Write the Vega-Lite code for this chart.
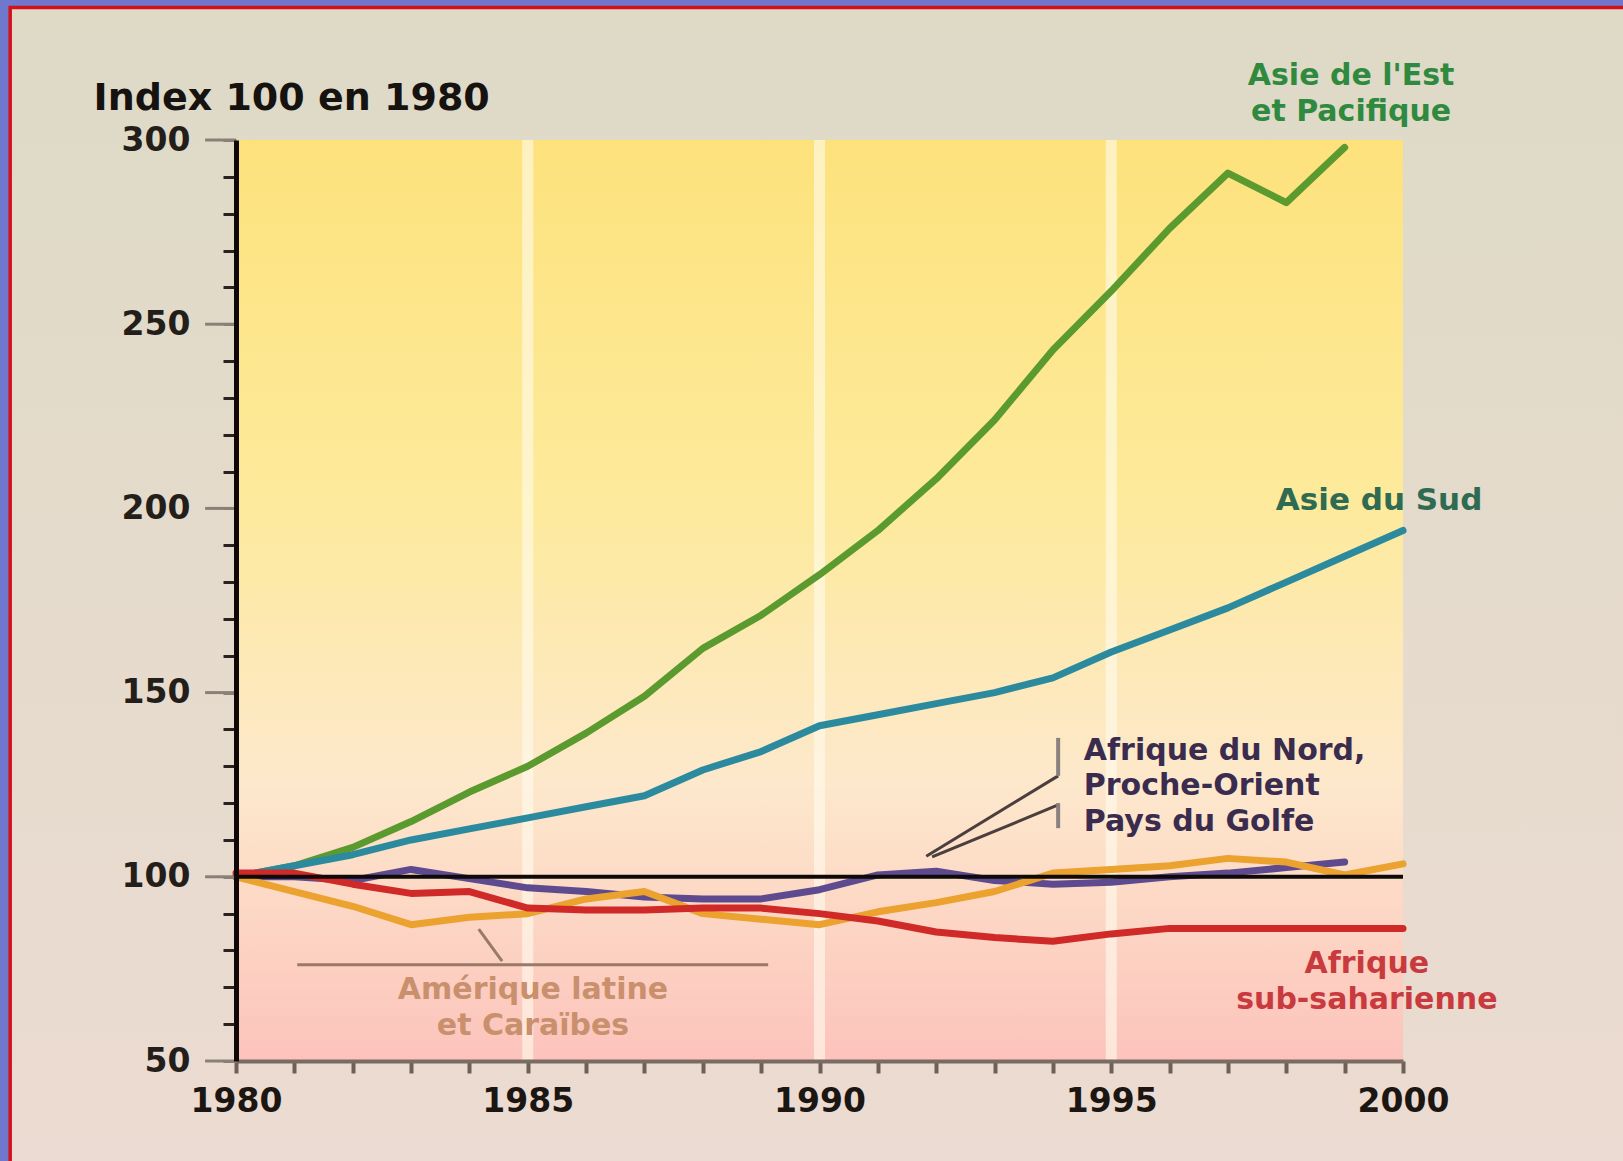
{
  "$schema": "https://vega.github.io/schema/vega-lite/v6.json",
  "width": 1167,
  "height": 921,
  "autosize": {"type": "none"},
  "padding": {"left": 236, "top": 140, "right": 220, "bottom": 100},
  "background": "#6f78cc",
  "config": {"view": {"stroke": null}, "font": "DejaVu Sans"},
  "datasets": {
    "one": [{}],
    "majors": [{"tick": 50}, {"tick": 100}, {"tick": 150}, {"tick": 200}, {"tick": 250}, {"tick": 300}],
    "series": [
      {"year": 1980, "series": "Asie de l'Est et Pacifique", "index": 100},
      {"year": 1981, "series": "Asie de l'Est et Pacifique", "index": 103},
      {"year": 1982, "series": "Asie de l'Est et Pacifique", "index": 108},
      {"year": 1983, "series": "Asie de l'Est et Pacifique", "index": 115},
      {"year": 1984, "series": "Asie de l'Est et Pacifique", "index": 123},
      {"year": 1985, "series": "Asie de l'Est et Pacifique", "index": 130},
      {"year": 1986, "series": "Asie de l'Est et Pacifique", "index": 139},
      {"year": 1987, "series": "Asie de l'Est et Pacifique", "index": 149},
      {"year": 1988, "series": "Asie de l'Est et Pacifique", "index": 162},
      {"year": 1989, "series": "Asie de l'Est et Pacifique", "index": 171},
      {"year": 1990, "series": "Asie de l'Est et Pacifique", "index": 182},
      {"year": 1991, "series": "Asie de l'Est et Pacifique", "index": 194},
      {"year": 1992, "series": "Asie de l'Est et Pacifique", "index": 208},
      {"year": 1993, "series": "Asie de l'Est et Pacifique", "index": 224},
      {"year": 1994, "series": "Asie de l'Est et Pacifique", "index": 243},
      {"year": 1995, "series": "Asie de l'Est et Pacifique", "index": 259},
      {"year": 1996, "series": "Asie de l'Est et Pacifique", "index": 276},
      {"year": 1997, "series": "Asie de l'Est et Pacifique", "index": 291},
      {"year": 1998, "series": "Asie de l'Est et Pacifique", "index": 283},
      {"year": 1999, "series": "Asie de l'Est et Pacifique", "index": 298},
      {"year": 1980, "series": "Asie du Sud", "index": 100},
      {"year": 1981, "series": "Asie du Sud", "index": 103},
      {"year": 1982, "series": "Asie du Sud", "index": 106},
      {"year": 1983, "series": "Asie du Sud", "index": 110},
      {"year": 1984, "series": "Asie du Sud", "index": 113},
      {"year": 1985, "series": "Asie du Sud", "index": 116},
      {"year": 1986, "series": "Asie du Sud", "index": 119},
      {"year": 1987, "series": "Asie du Sud", "index": 122},
      {"year": 1988, "series": "Asie du Sud", "index": 129},
      {"year": 1989, "series": "Asie du Sud", "index": 134},
      {"year": 1990, "series": "Asie du Sud", "index": 141},
      {"year": 1991, "series": "Asie du Sud", "index": 144},
      {"year": 1992, "series": "Asie du Sud", "index": 147},
      {"year": 1993, "series": "Asie du Sud", "index": 150},
      {"year": 1994, "series": "Asie du Sud", "index": 154},
      {"year": 1995, "series": "Asie du Sud", "index": 161},
      {"year": 1996, "series": "Asie du Sud", "index": 167},
      {"year": 1997, "series": "Asie du Sud", "index": 173},
      {"year": 1998, "series": "Asie du Sud", "index": 180},
      {"year": 1999, "series": "Asie du Sud", "index": 187},
      {"year": 2000, "series": "Asie du Sud", "index": 194},
      {"year": 1980, "series": "Afrique du Nord, Proche-Orient, Pays du Golfe", "index": 100},
      {"year": 1981, "series": "Afrique du Nord, Proche-Orient, Pays du Golfe", "index": 100},
      {"year": 1982, "series": "Afrique du Nord, Proche-Orient, Pays du Golfe", "index": 99},
      {"year": 1983, "series": "Afrique du Nord, Proche-Orient, Pays du Golfe", "index": 102},
      {"year": 1984, "series": "Afrique du Nord, Proche-Orient, Pays du Golfe", "index": 99.5},
      {"year": 1985, "series": "Afrique du Nord, Proche-Orient, Pays du Golfe", "index": 97},
      {"year": 1986, "series": "Afrique du Nord, Proche-Orient, Pays du Golfe", "index": 96},
      {"year": 1987, "series": "Afrique du Nord, Proche-Orient, Pays du Golfe", "index": 94.5},
      {"year": 1988, "series": "Afrique du Nord, Proche-Orient, Pays du Golfe", "index": 94},
      {"year": 1989, "series": "Afrique du Nord, Proche-Orient, Pays du Golfe", "index": 94},
      {"year": 1990, "series": "Afrique du Nord, Proche-Orient, Pays du Golfe", "index": 96.5},
      {"year": 1991, "series": "Afrique du Nord, Proche-Orient, Pays du Golfe", "index": 100.5},
      {"year": 1992, "series": "Afrique du Nord, Proche-Orient, Pays du Golfe", "index": 101.5},
      {"year": 1993, "series": "Afrique du Nord, Proche-Orient, Pays du Golfe", "index": 99},
      {"year": 1994, "series": "Afrique du Nord, Proche-Orient, Pays du Golfe", "index": 98},
      {"year": 1995, "series": "Afrique du Nord, Proche-Orient, Pays du Golfe", "index": 98.5},
      {"year": 1996, "series": "Afrique du Nord, Proche-Orient, Pays du Golfe", "index": 100},
      {"year": 1997, "series": "Afrique du Nord, Proche-Orient, Pays du Golfe", "index": 101},
      {"year": 1998, "series": "Afrique du Nord, Proche-Orient, Pays du Golfe", "index": 102.5},
      {"year": 1999, "series": "Afrique du Nord, Proche-Orient, Pays du Golfe", "index": 104},
      {"year": 1980, "series": "Amérique latine et Caraïbes", "index": 100},
      {"year": 1981, "series": "Amérique latine et Caraïbes", "index": 96},
      {"year": 1982, "series": "Amérique latine et Caraïbes", "index": 92},
      {"year": 1983, "series": "Amérique latine et Caraïbes", "index": 87},
      {"year": 1984, "series": "Amérique latine et Caraïbes", "index": 89},
      {"year": 1985, "series": "Amérique latine et Caraïbes", "index": 90},
      {"year": 1986, "series": "Amérique latine et Caraïbes", "index": 94},
      {"year": 1987, "series": "Amérique latine et Caraïbes", "index": 96},
      {"year": 1988, "series": "Amérique latine et Caraïbes", "index": 90},
      {"year": 1989, "series": "Amérique latine et Caraïbes", "index": 88.5},
      {"year": 1990, "series": "Amérique latine et Caraïbes", "index": 87},
      {"year": 1991, "series": "Amérique latine et Caraïbes", "index": 90.5},
      {"year": 1992, "series": "Amérique latine et Caraïbes", "index": 93},
      {"year": 1993, "series": "Amérique latine et Caraïbes", "index": 96},
      {"year": 1994, "series": "Amérique latine et Caraïbes", "index": 101},
      {"year": 1995, "series": "Amérique latine et Caraïbes", "index": 102},
      {"year": 1996, "series": "Amérique latine et Caraïbes", "index": 103},
      {"year": 1997, "series": "Amérique latine et Caraïbes", "index": 105},
      {"year": 1998, "series": "Amérique latine et Caraïbes", "index": 104},
      {"year": 1999, "series": "Amérique latine et Caraïbes", "index": 100.5},
      {"year": 2000, "series": "Amérique latine et Caraïbes", "index": 103.5},
      {"year": 1980, "series": "Afrique sub-saharienne", "index": 101},
      {"year": 1981, "series": "Afrique sub-saharienne", "index": 101},
      {"year": 1982, "series": "Afrique sub-saharienne", "index": 98},
      {"year": 1983, "series": "Afrique sub-saharienne", "index": 95.5},
      {"year": 1984, "series": "Afrique sub-saharienne", "index": 96},
      {"year": 1985, "series": "Afrique sub-saharienne", "index": 91.5},
      {"year": 1986, "series": "Afrique sub-saharienne", "index": 91},
      {"year": 1987, "series": "Afrique sub-saharienne", "index": 91},
      {"year": 1988, "series": "Afrique sub-saharienne", "index": 91.5},
      {"year": 1989, "series": "Afrique sub-saharienne", "index": 91.5},
      {"year": 1990, "series": "Afrique sub-saharienne", "index": 90},
      {"year": 1991, "series": "Afrique sub-saharienne", "index": 88},
      {"year": 1992, "series": "Afrique sub-saharienne", "index": 85},
      {"year": 1993, "series": "Afrique sub-saharienne", "index": 83.5},
      {"year": 1994, "series": "Afrique sub-saharienne", "index": 82.5},
      {"year": 1995, "series": "Afrique sub-saharienne", "index": 84.5},
      {"year": 1996, "series": "Afrique sub-saharienne", "index": 86},
      {"year": 1997, "series": "Afrique sub-saharienne", "index": 86},
      {"year": 1998, "series": "Afrique sub-saharienne", "index": 86},
      {"year": 1999, "series": "Afrique sub-saharienne", "index": 86},
      {"year": 2000, "series": "Afrique sub-saharienne", "index": 86}
    ],
    "grid": [{"year": 1985}, {"year": 1990}, {"year": 1995}]
  },
  "layer": [
    {
      "data": {"name": "one"},
      "mark": {
        "type": "rect",
        "stroke": "#d4101a",
        "strokeWidth": 3.5,
        "fill": {"gradient": "linear", "x1": 0, "y1": 0, "x2": 0, "y2": 1,
          "stops": [{"offset": 0, "color": "#dedac6"}, {"offset": 1, "color": "#ecdbd2"}]}
      },
      "encoding": {
        "x": {"datum": 1976.13, "type": "quantitative", "scale": {"domain": [1980, 2000], "nice": false, "zero": false}},
        "x2": {"datum": 2006},
        "y": {"datum": 335.97, "type": "quantitative", "scale": {"domain": [50, 300], "nice": false, "zero": false}},
        "y2": {"datum": 15}
      }
    },
    {
      "data": {"name": "one"},
      "mark": {
        "type": "rect",
        "fill": {"gradient": "linear", "x1": 0, "y1": 0, "x2": 0, "y2": 1,
          "stops": [
            {"offset": 0, "color": "#fde27c"},
            {"offset": 0.4, "color": "#fdea9c"},
            {"offset": 0.7, "color": "#fde8cc"},
            {"offset": 1, "color": "#fcc3bc"}
          ]}
      },
      "encoding": {
        "x": {"datum": 1980, "type": "quantitative", "scale": {"domain": [1980, 2000]}},
        "x2": {"datum": 2000},
        "y": {"datum": 300, "type": "quantitative", "scale": {"domain": [50, 300]}},
        "y2": {"datum": 50}
      }
    },
    {
      "data": {"name": "grid"},
      "mark": {"type": "rule", "color": "#fffbee", "strokeWidth": 11, "opacity": 0.6},
      "encoding": {
        "x": {"field": "year", "type": "quantitative", "scale": {"domain": [1980, 2000]}}
      }
    },
    {
      "data": {"name": "majors"},
      "mark": {"type": "rule", "color": "#8a8078", "strokeWidth": 3},
      "encoding": {
        "x": {"datum": 1979.47, "type": "quantitative", "scale": {"domain": [1980, 2000]}},
        "x2": {"datum": 1980},
        "y": {"field": "tick", "type": "quantitative", "scale": {"domain": [50, 300]}}
      }
    },
    {
      "data": {"name": "series"},
      "mark": {"type": "line", "strokeWidth": 7, "strokeJoin": "round", "strokeCap": "round"},
      "encoding": {
        "x": {"field": "year", "type": "quantitative", "scale": {"domain": [1980, 2000], "nice": false, "zero": false},
          "axis": {
            "zindex": 1,
            "title": null,
            "tickCount": 50,
            "values": [1980,1981,1982,1983,1984,1985,1986,1987,1988,1989,1990,1991,1992,1993,1994,1995,1996,1997,1998,1999,2000],
            "labelExpr": "datum.value % 5 === 0 ? datum.value : ''",
            "labelFlush": false,
            "labelOverlap": false,
            "grid": false,
            "domainColor": "#7a6b63",
            "domainWidth": 4,
            "tickColor": "#6e5f57",
            "tickWidth": 4,
            "tickSize": 12,
            "labelFont": "DejaVu Sans",
            "labelFontSize": 33,
            "labelFontWeight": "bold",
            "labelColor": "#1c1612",
            "labelPadding": 12
          }},
        "y": {"field": "index", "type": "quantitative", "scale": {"domain": [50, 300], "nice": false, "zero": false},
          "axis": {
            "zindex": 1,
            "title": "Index 100 en 1980",
            "titleAngle": 0,
            "titleAlign": "left",
            "titleBaseline": "alphabetic",
            "titleX": -143,
            "titleY": -31,
            "titleFont": "DejaVu Sans",
            "titleFontSize": 38,
            "titleFontWeight": "bold",
            "titleColor": "#161210",
            "tickCount": 50,
            "values": [50,60,70,80,90,100,110,120,130,140,150,160,170,180,190,200,210,220,230,240,250,260,270,280,290,300],
            "labelExpr": "datum.value % 50 === 0 ? datum.value : ''",
            "labelOverlap": false,
            "labelFlush": false,
            "labelBound": false,
            "grid": false,
            "domainColor": "#100806",
            "domainWidth": 5,
            "tickWidth": 3,
            "tickSize": 13,
            "tickColor": {"condition": {"test": "datum.value % 50 === 0", "value": "#8a8078"}, "value": "#2a2220"},
            "labelFont": "DejaVu Sans",
            "labelFontSize": 33,
            "labelFontWeight": "bold",
            "labelColor": "#241e1a",
            "labelPadding": 33
          }},
        "color": {
          "field": "series",
          "type": "nominal",
          "legend": null,
          "scale": {
            "domain": ["Amérique latine et Caraïbes", "Afrique du Nord, Proche-Orient, Pays du Golfe", "Afrique sub-saharienne", "Asie du Sud", "Asie de l'Est et Pacifique"],
            "range": ["#eba22e", "#5e4a8e", "#cf2a28", "#2b8a9e", "#5b9a2e"]
          }
        }
      }
    },
    {
      "data": {"name": "one"},
      "mark": {"type": "rule", "color": "#0e0a08", "strokeWidth": 4},
      "encoding": {
        "x": {"datum": 1980, "type": "quantitative", "scale": {"domain": [1980, 2000]}},
        "x2": {"datum": 2000},
        "y": {"datum": 100, "type": "quantitative", "scale": {"domain": [50, 300]}}
      }
    },
    {
      "data": {"name": "one"},
      "mark": {"type": "rule", "color": "#4a3e3e", "strokeWidth": 3},
      "encoding": {
        "x": {"datum": 1994.09, "type": "quantitative", "scale": {"domain": [1980, 2000]}},
        "y": {"datum": 127.4, "type": "quantitative", "scale": {"domain": [50, 300]}},
        "x2": {"datum": 1991.83},
        "y2": {"datum": 105.6}
      }
    },
    {
      "data": {"name": "one"},
      "mark": {"type": "rule", "color": "#4a3e3e", "strokeWidth": 3},
      "encoding": {
        "x": {"datum": 1994.09, "type": "quantitative", "scale": {"domain": [1980, 2000]}},
        "y": {"datum": 119.5, "type": "quantitative", "scale": {"domain": [50, 300]}},
        "x2": {"datum": 1991.93},
        "y2": {"datum": 105.4}
      }
    },
    {
      "data": {"name": "one"},
      "mark": {"type": "rule", "color": "#8a8080", "strokeWidth": 4},
      "encoding": {
        "x": {"datum": 1994.09, "type": "quantitative", "scale": {"domain": [1980, 2000]}},
        "y": {"datum": 137.7, "type": "quantitative", "scale": {"domain": [50, 300]}},
        "y2": {"datum": 127.4}
      }
    },
    {
      "data": {"name": "one"},
      "mark": {"type": "rule", "color": "#8a8080", "strokeWidth": 4},
      "encoding": {
        "x": {"datum": 1994.09, "type": "quantitative", "scale": {"domain": [1980, 2000]}},
        "y": {"datum": 120.0, "type": "quantitative", "scale": {"domain": [50, 300]}},
        "y2": {"datum": 113.2}
      }
    },
    {
      "data": {"name": "one"},
      "mark": {"type": "rule", "color": "#9a7a66", "strokeWidth": 3},
      "encoding": {
        "x": {"datum": 1981.05, "type": "quantitative", "scale": {"domain": [1980, 2000]}},
        "x2": {"datum": 1989.12},
        "y": {"datum": 76.1, "type": "quantitative", "scale": {"domain": [50, 300]}}
      }
    },
    {
      "data": {"name": "one"},
      "mark": {"type": "rule", "color": "#9a7a66", "strokeWidth": 3},
      "encoding": {
        "x": {"datum": 1984.56, "type": "quantitative", "scale": {"domain": [1980, 2000]}},
        "y": {"datum": 77.1, "type": "quantitative", "scale": {"domain": [50, 300]}},
        "x2": {"datum": 1984.16},
        "y2": {"datum": 85.8}
      }
    },
    {
      "data": {"name": "one"},
      "mark": {"type": "text", "text": ["Asie de l'Est", "et Pacifique"], "align": "center", "baseline": "alphabetic", "font": "DejaVu Sans", "fontSize": 30, "fontWeight": "bold", "color": "#2f8a40", "lineHeight": 35.5},
      "encoding": {
        "x": {"datum": 1999.11, "type": "quantitative", "scale": {"domain": [1980, 2000]}},
        "y": {"datum": 314.9, "type": "quantitative", "scale": {"domain": [50, 300]}}
      }
    },
    {
      "data": {"name": "one"},
      "mark": {"type": "text", "text": "Asie du Sud", "align": "center", "baseline": "alphabetic", "font": "DejaVu Sans", "fontSize": 31, "fontWeight": "bold", "color": "#2f6a52"},
      "encoding": {
        "x": {"datum": 1999.59, "type": "quantitative", "scale": {"domain": [1980, 2000]}},
        "y": {"datum": 199.6, "type": "quantitative", "scale": {"domain": [50, 300]}}
      }
    },
    {
      "data": {"name": "one"},
      "mark": {"type": "text", "text": ["Afrique du Nord,", "Proche-Orient", "Pays du Golfe"], "align": "left", "baseline": "alphabetic", "font": "DejaVu Sans", "fontSize": 30, "fontWeight": "bold", "color": "#3a2c4e", "lineHeight": 35.5},
      "encoding": {
        "x": {"datum": 1994.53, "type": "quantitative", "scale": {"domain": [1980, 2000]}},
        "y": {"datum": 131.8, "type": "quantitative", "scale": {"domain": [50, 300]}}
      }
    },
    {
      "data": {"name": "one"},
      "mark": {"type": "text", "text": ["Amérique latine", "et Caraïbes"], "align": "center", "baseline": "alphabetic", "font": "DejaVu Sans", "fontSize": 30, "fontWeight": "bold", "color": "#c8906c", "lineHeight": 36},
      "encoding": {
        "x": {"datum": 1985.09, "type": "quantitative", "scale": {"domain": [1980, 2000]}},
        "y": {"datum": 66.8, "type": "quantitative", "scale": {"domain": [50, 300]}}
      }
    },
    {
      "data": {"name": "one"},
      "mark": {"type": "text", "text": ["Afrique", "sub-saharienne"], "align": "center", "baseline": "alphabetic", "font": "DejaVu Sans", "fontSize": 30, "fontWeight": "bold", "color": "#c83a3e", "lineHeight": 36},
      "encoding": {
        "x": {"datum": 1999.38, "type": "quantitative", "scale": {"domain": [1980, 2000]}},
        "y": {"datum": 73.9, "type": "quantitative", "scale": {"domain": [50, 300]}}
      }
    }
  ]
}
